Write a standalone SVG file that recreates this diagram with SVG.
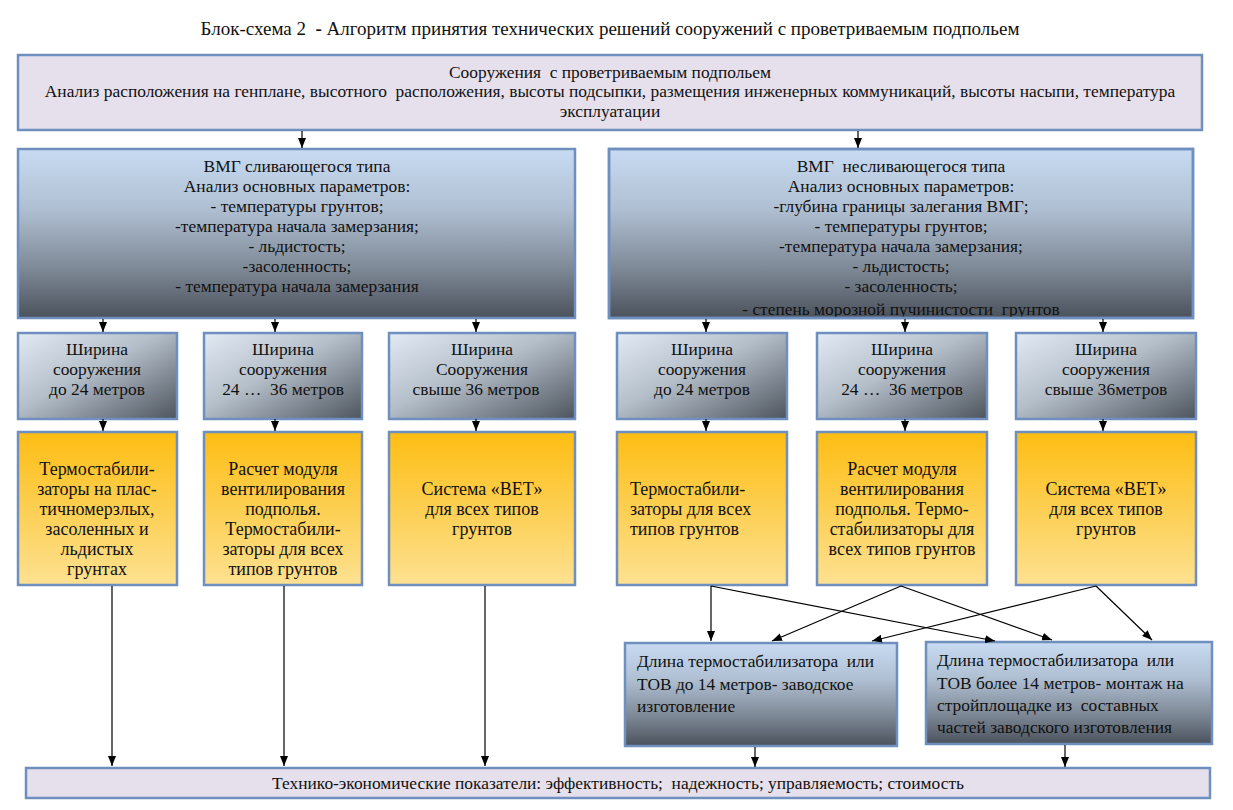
<svg xmlns="http://www.w3.org/2000/svg" width="1233" height="810" viewBox="0 0 1233 810" xml:space="preserve">
<defs>
<style>
text{font-family:"Liberation Serif","Times New Roman",serif;font-size:17.4px;fill:#111;white-space:pre;}
.c{text-anchor:middle;}
.o{font-size:18px;}
.box{stroke:#6f8fbf;stroke-width:2.5;}
.lav{fill:#e5e0ec;}
.big{fill:url(#bigG);}
.sm{fill:url(#smG);}
.or{fill:url(#orG);}
.ln{stroke:#000;stroke-width:1.2;fill:none;}
.ar{marker-end:url(#ah);}
</style>
<linearGradient id="bigG" x1="0" y1="0" x2="0" y2="1">
<stop offset="0" stop-color="#c8dbf2"/>
<stop offset="0.35" stop-color="#b0c0d3"/>
<stop offset="0.7" stop-color="#7f8a98"/>
<stop offset="1" stop-color="#4b525c"/>
</linearGradient>
<linearGradient id="smG" x1="0" y1="0" x2="1" y2="1">
<stop offset="0" stop-color="#e2eaf4"/>
<stop offset="0.45" stop-color="#b4bec9"/>
<stop offset="1" stop-color="#4d545e"/>
</linearGradient>
<linearGradient id="orG" x1="0" y1="0" x2="0" y2="1">
<stop offset="0" stop-color="#fdbd12"/>
<stop offset="1" stop-color="#fde192"/>
</linearGradient>
<marker id="ah" markerWidth="10" markerHeight="8" refX="10" refY="4" orient="auto" markerUnits="userSpaceOnUse">
<path d="M0,0 L10,4 L0,8 z" fill="#000"/>
</marker>
<clipPath id="clipR"><rect x="609" y="149" width="584" height="168"/></clipPath>
</defs>
<rect width="1233" height="810" fill="#fff"/>
<text id="title" class="c" x="610" y="35" style="font-size:19px">Блок-схема 2  <tspan font-weight="bold">-</tspan> Алгоритм принятия технических решений сооружений с проветриваемым подпольем</text>

<g id="top">
<rect class="box lav" x="18" y="55" width="1184" height="75"/>
<text class="c" x="610" y="78">Сооружения  с проветриваемым подпольем</text>
<text class="c" x="610" y="97">Анализ расположения на генплане, высотного  расположения, высоты подсыпки, размещения инженерных коммуникаций, высоты насыпи, температура</text>
<text class="c" x="610" y="117">эксплуатации</text>
</g>

<g id="vmg1">
<rect class="box big" x="18" y="149" width="557" height="169"/>
<text class="c" x="297" y="172">ВМГ сливающегося типа</text>
<text class="c" x="297" y="192">Анализ основных параметров:</text>
<text class="c" x="297" y="212">- температуры грунтов;</text>
<text class="c" x="297" y="232">-температура начала замерзания;</text>
<text class="c" x="297" y="252">- льдистость;</text>
<text class="c" x="297" y="272">-засоленность;</text>
<text class="c" x="297" y="292">- температура начала замерзания</text>
</g>

<g id="vmg2">
<rect class="box big" x="609" y="149" width="584" height="169"/>
<g clip-path="url(#clipR)">
<text class="c" x="901" y="172">ВМГ  несливающегося типа</text>
<text class="c" x="901" y="192">Анализ основных параметров:</text>
<text class="c" x="901" y="212">-глубина границы залегания ВМГ;</text>
<text class="c" x="901" y="232">- температуры грунтов;</text>
<text class="c" x="901" y="252">-температура начала замерзания;</text>
<text class="c" x="901" y="272">- льдистость;</text>
<text class="c" x="901" y="292">- засоленность;</text>
<text class="c" x="901" y="315">- степень морозной пучинистости  грунтов</text>
</g>
<rect x="609" y="149" width="584" height="169" fill="none" stroke="#6f8fbf" stroke-width="2.5"/>
</g>

<g id="w1">
<rect class="box sm" x="18" y="333" width="159" height="86"/>
<text class="c" x="97" y="355">Ширина</text>
<text class="c" x="97" y="375">сооружения</text>
<text class="c" x="97" y="395">до 24 метров</text>
</g>
<g id="w2">
<rect class="box sm" x="204" y="333" width="158" height="86"/>
<text class="c" x="283" y="355">Ширина</text>
<text class="c" x="283" y="375">сооружения</text>
<text class="c" x="283" y="395">24 …  36 метров</text>
</g>
<g id="w3">
<rect class="box sm" x="389" y="333" width="186" height="86"/>
<text class="c" x="482" y="355">Ширина</text>
<text class="c" x="482" y="375">Сооружения</text>
<text class="c" x="476" y="395">свыше 36 метров</text>
</g>
<g id="w4">
<rect class="box sm" x="617" y="333" width="170" height="86"/>
<text class="c" x="702" y="355">Ширина</text>
<text class="c" x="702" y="375">сооружения</text>
<text class="c" x="702" y="395">до 24 метров</text>
</g>
<g id="w5">
<rect class="box sm" x="817" y="333" width="170" height="86"/>
<text class="c" x="902" y="355">Ширина</text>
<text class="c" x="902" y="375">сооружения</text>
<text class="c" x="902" y="395">24 …  36 метров</text>
</g>
<g id="w6">
<rect class="box sm" x="1016" y="333" width="180" height="86"/>
<text class="c" x="1106" y="355">Ширина</text>
<text class="c" x="1106" y="375">сооружения</text>
<text class="c" x="1106" y="395">свыше 36метров</text>
</g>

<g id="o1">
<rect class="box or" x="18" y="432" width="159" height="153"/>
<text class="c o" x="97" y="475">Термостабили-</text>
<text class="c o" x="97" y="495">заторы на плас-</text>
<text class="c o" x="97" y="515">тичномерзлых,</text>
<text class="c o" x="97" y="535">засоленных и</text>
<text class="c o" x="97" y="555">льдистых</text>
<text class="c o" x="97" y="575">грунтах</text>
</g>
<g id="o2">
<rect class="box or" x="204" y="432" width="158" height="153"/>
<text class="c o" x="283" y="475">Расчет модуля</text>
<text class="c o" x="283" y="495">вентилирования</text>
<text class="c o" x="283" y="515">подполья.</text>
<text class="c o" x="283" y="535">Термостабили-</text>
<text class="c o" x="283" y="555">заторы для всех</text>
<text class="c o" x="283" y="575">типов грунтов</text>
</g>
<g id="o3">
<rect class="box or" x="389" y="432" width="186" height="153"/>
<text class="c o" x="482" y="495">Система «ВЕТ»</text>
<text class="c o" x="482" y="515">для всех типов</text>
<text class="c o" x="482" y="535">грунтов</text>
</g>
<g id="o4">
<rect class="box or" x="617" y="432" width="170" height="153"/>
<text class="o" x="630" y="495">Термостабили-</text>
<text class="o" x="630" y="515">заторы для всех</text>
<text class="o" x="630" y="535">типов грунтов</text>
</g>
<g id="o5">
<rect class="box or" x="817" y="432" width="170" height="153"/>
<text class="c o" x="902" y="475">Расчет модуля</text>
<text class="c o" x="902" y="495">вентилирования</text>
<text class="c o" x="902" y="515">подполья. Термо-</text>
<text class="c o" x="902" y="535">стабилизаторы для</text>
<text class="c o" x="902" y="555">всех типов грунтов</text>
</g>
<g id="o6">
<rect class="box or" x="1016" y="432" width="180" height="153"/>
<text class="c o" x="1106" y="495">Система «ВЕТ»</text>
<text class="c o" x="1106" y="515">для всех типов</text>
<text class="c o" x="1106" y="535">грунтов</text>
</g>

<g id="len1">
<rect class="box big" x="625" y="643" width="272" height="103"/>
<text x="637" y="667">Длина термостабилизатора  или</text>
<text x="637" y="690">ТОВ до 14 метров- заводское</text>
<text x="637" y="712">изготовление</text>
</g>
<g id="len2">
<rect class="box big" x="926" y="642" width="286" height="102"/>
<text x="937" y="666">Длина термостабилизатора  или</text>
<text x="937" y="689">ТОВ более 14 метров- монтаж на</text>
<text x="937" y="711">стройплощадке из  составных</text>
<text x="937" y="733">частей заводского изготовления</text>
</g>

<g id="bottom">
<rect class="box lav" x="26" y="768" width="1184" height="30"/>
<text class="c" x="618" y="789">Технико-экономические показатели: эффективность;  надежность; управляемость; стоимость</text>
</g>

<g id="connectors">
<line class="ln ar" x1="302" y1="131" x2="302" y2="148"/>
<line class="ln ar" x1="858" y1="131" x2="858" y2="148"/>
<line class="ln ar" x1="103" y1="319" x2="103" y2="332"/>
<line class="ln ar" x1="275" y1="319" x2="275" y2="332"/>
<line class="ln ar" x1="476" y1="319" x2="476" y2="332"/>
<line class="ln ar" x1="706" y1="319" x2="706" y2="332"/>
<line class="ln ar" x1="905" y1="319" x2="905" y2="332"/>
<line class="ln ar" x1="1103" y1="319" x2="1103" y2="332"/>
<line class="ln ar" x1="103" y1="419" x2="103" y2="431"/>
<line class="ln ar" x1="275" y1="419" x2="275" y2="431"/>
<line class="ln ar" x1="476" y1="419" x2="476" y2="431"/>
<line class="ln ar" x1="706" y1="419" x2="706" y2="431"/>
<line class="ln ar" x1="905" y1="419" x2="905" y2="431"/>
<line class="ln ar" x1="1103" y1="419" x2="1103" y2="431"/>
<line class="ln ar" x1="112" y1="586" x2="112" y2="766"/>
<line class="ln ar" x1="284" y1="586" x2="284" y2="766"/>
<line class="ln ar" x1="485" y1="586" x2="485" y2="766"/>
<line class="ln ar" x1="711" y1="586" x2="711" y2="641"/>
<line class="ln ar" x1="711" y1="586" x2="995" y2="641"/>
<line class="ln ar" x1="901" y1="586" x2="772" y2="641"/>
<line class="ln ar" x1="901" y1="586" x2="1052" y2="640"/>
<line class="ln ar" x1="1096" y1="586" x2="872" y2="641"/>
<line class="ln ar" x1="1096" y1="586" x2="1152" y2="640"/>
<line class="ln ar" x1="755" y1="747" x2="755" y2="767"/>
<line class="ln ar" x1="1065" y1="745" x2="1065" y2="767"/>
</g>
</svg>
